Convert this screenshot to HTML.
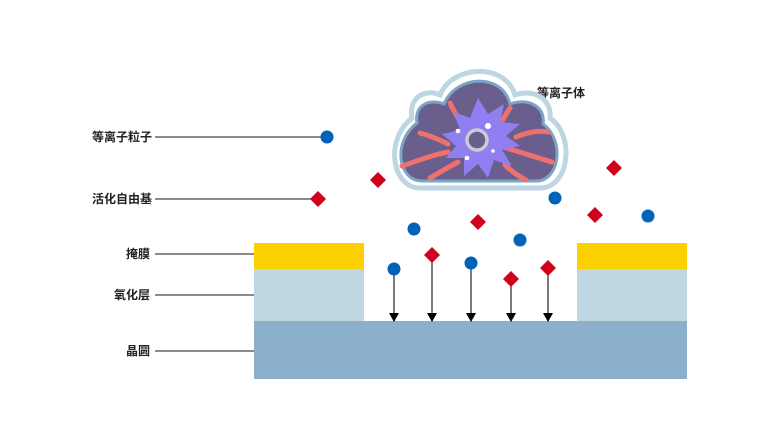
<!DOCTYPE html>
<html><head><meta charset="utf-8"><style>
html,body{margin:0;padding:0;background:#fff;width:772px;height:434px;overflow:hidden}
text{font-family:"Liberation Sans","Noto Sans CJK SC",sans-serif;font-size:12px;fill:#222;font-weight:bold}
</style></head><body>
<svg width="772" height="434" viewBox="0 0 772 434" xmlns="http://www.w3.org/2000/svg">
<defs><marker id="a" markerWidth="9" markerHeight="10" refX="8" refY="5" orient="auto" markerUnits="userSpaceOnUse"><path d="M0,0 L9,5 L0,10 Z" fill="#000"/></marker></defs>
<rect x="254" y="321" width="433" height="58" fill="#8cafcb"/>
<rect x="254" y="269" width="110" height="52" fill="#bfd6e3"/>
<rect x="577" y="269" width="110" height="52" fill="#bfd6e3"/>
<rect x="254" y="243" width="110" height="26" fill="#fdd000"/>
<rect x="577" y="243" width="110" height="26" fill="#fdd000"/>
<g stroke="#444" stroke-width="1.3">
<line x1="155" y1="137" x2="322" y2="137"/>
<line x1="155" y1="199" x2="312" y2="199"/>
<line x1="155" y1="254" x2="254" y2="254"/>
<line x1="155" y1="295" x2="254" y2="295"/>
<line x1="155" y1="351" x2="254" y2="351"/>
</g>
<text x="92" y="141">等离子粒子</text>
<text x="92" y="203">活化自由基</text>
<text x="150" y="258" text-anchor="end">掩膜</text>
<text x="150" y="299" text-anchor="end">氧化层</text>
<text x="150" y="355" text-anchor="end">晶圆</text>
<text x="537" y="97">等离子体</text>
<!-- cloud -->
<path d="M420,188 C392,188 384,140 412,118 C408,98 425,88 440,95 C452,65 505,62 515,95 C535,88 552,100 550,118 C575,135 570,188 540,188 Z" fill="#fff" stroke="#bcd6e4" stroke-width="5"/>
<path d="M422,181 C398,181 392,142 417,123 C414,106 428,98 444,104 C456,75 502,72 510,104 C530,97 546,108 543,124 C565,140 560,181 536,181 Z" fill="#6a5e8c" stroke="#7ba4c6" stroke-width="3"/>
<g fill="none" stroke="#f07070" stroke-width="5" stroke-linecap="round">
<path d="M450,103 C456,116 462,124 466,130"/>
<path d="M510,108 C502,120 498,128 494,134"/>
<path d="M420,133 C432,136 442,141 448,144"/>
<path d="M402,166 C420,160 432,155 448,152"/>
<path d="M430,178 C440,172 447,168 458,162"/>
<path d="M516,137 C528,132 538,130 548,132"/>
<path d="M506,148 C520,152 532,156 552,162"/>
<path d="M505,165 C512,172 520,177 526,180"/>
</g>
<path d="M478,98 L488,114 L504,104 L500,122 L520,124 L506,136 L520,146 L502,150 L512,166 L494,160 L488,178 L478,164 L464,176 L464,158 L446,158 L456,146 L442,134 L460,130 L454,112 L470,118 Z" fill="#8f7ff0"/>
<circle cx="477" cy="140" r="10" fill="#6a5e8c" stroke="#c8cdd4" stroke-width="3.5"/>
<circle cx="488" cy="126" r="3" fill="#fff"/><circle cx="458" cy="131" r="2.3" fill="#fff"/>
<circle cx="467" cy="158" r="2.3" fill="#fff"/><circle cx="493" cy="151" r="1.8" fill="#fff"/>
<g stroke="#333" stroke-width="1.3" marker-end="url(#a)">
<line x1="394" y1="270" x2="394" y2="321"/>
<line x1="432" y1="256" x2="432" y2="321"/>
<line x1="471" y1="264" x2="471" y2="321"/>
<line x1="511" y1="280" x2="511" y2="321"/>
<line x1="548" y1="269" x2="548" y2="321"/>
</g>
<g fill="#0062b8">
<circle cx="327" cy="137" r="6.5"/><circle cx="555" cy="198" r="6.5"/><circle cx="414" cy="229" r="6.5"/>
<circle cx="648" cy="216" r="6.5"/><circle cx="520" cy="240" r="6.5"/><circle cx="394" cy="269" r="6.5"/><circle cx="471" cy="263" r="6.5"/>
</g>
<g fill="#d0021b">
<path d="M378,172 l8,8 l-8,8 l-8,-8z"/><path d="M318,191 l8,8 l-8,8 l-8,-8z"/><path d="M614,160 l8,8 l-8,8 l-8,-8z"/>
<path d="M478,214 l8,8 l-8,8 l-8,-8z"/><path d="M595,207 l8,8 l-8,8 l-8,-8z"/><path d="M432,247 l8,8 l-8,8 l-8,-8z"/>
<path d="M511,271 l8,8 l-8,8 l-8,-8z"/><path d="M548,260 l8,8 l-8,8 l-8,-8z"/>
</g>
</svg>
</body></html>
